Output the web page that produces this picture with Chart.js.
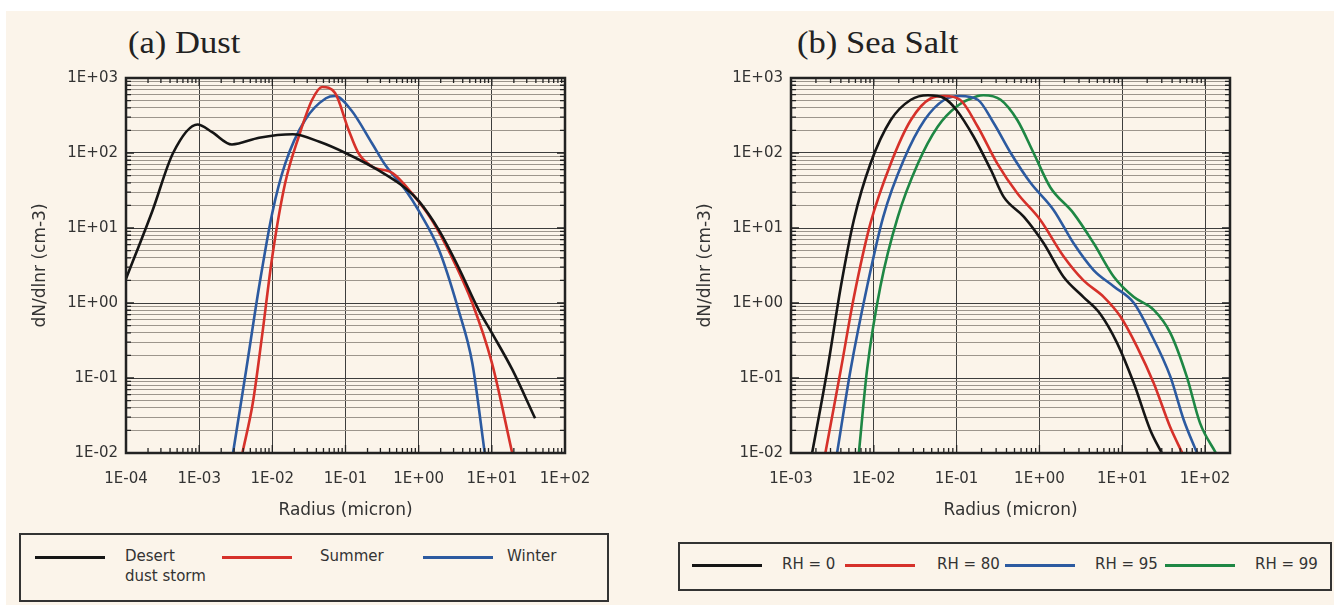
<!DOCTYPE html>
<html>
<head>
<meta charset="utf-8">
<script src="https://cdn.jsdelivr.net/npm/chart.js@4.4.1/dist/chart.umd.min.js"></script>
<style>
  html, body { margin: 0; padding: 0; background: #fff; width: 1334px; height: 605px; overflow: hidden; }
  #paper { position: absolute; left: 6px; top: 11px; width: 1328px; height: 594px; background: #fbf4ea; }
  .panel { position: absolute; top: 60px; }
  .title { position: absolute; top: 26px; font-family: 'Liberation Serif', 'Times New Roman', serif; font-size: 32px; line-height: 32px; color: #222; white-space: nowrap; transform: scaleX(1.08); transform-origin: left center; }
  .legend { position: absolute; border: 2px solid #333; box-sizing: border-box; font-family: 'DejaVu Sans', sans-serif; font-size: 15px; line-height: 20px; color: #333; }
  .legend .swatch { position: absolute; width: 70px; height: 3px; }
  .legend .txt { position: absolute; white-space: pre-line; }
</style>
</head>
<body>
<div id="paper"></div>
<div class="title" style="left:128px">(a) Dust</div>
<div class="title" style="left:797px">(b) Sea Salt</div>
<div class="panel" style="left:0px"><canvas id="dustChart" width="620" height="463"></canvas></div>
<div class="panel" style="left:665px"><canvas id="saltChart" width="620" height="463"></canvas></div>
<div class="legend" id="dustLegend" style="left:19px; top:533px; width:590px; height:69px"></div>
<div class="legend" id="saltLegend" style="left:678px; top:542px; width:654px; height:49px"></div>
<script>
// (a) Dust size distributions: radius (micron) and dN/dlnr (cm-3)
const dustLabels = ['Desert\ndust storm', 'Summer', 'Winter'];
const dustColors = ['#151515', '#d6312a', '#2c5aa0'];

const desertR = [1e-4, 2.3e-4, 4.4e-4, 9.5e-4, 1.5e-3, 2.8e-3, 6.6e-3, 0.019, 0.044, 0.1, 0.28, 0.66, 1.0, 1.9, 3.5, 6.6, 10, 19, 39];
const desertN = [2.1, 17, 100, 240, 190, 130, 160, 178, 141, 100, 59, 34, 23, 9.3, 3.0, 0.81, 0.40, 0.13, 0.029];

const summerR = [3.9e-3, 5.4e-3, 7.2e-3, 0.01, 0.015, 0.023, 0.035, 0.048, 0.072, 0.11, 0.15, 0.23, 0.44, 0.81, 1.5, 2.8, 5.4, 10, 19];
const summerN = [0.01, 0.046, 0.35, 4.2, 40, 166, 513, 760, 630, 204, 100, 66, 54, 29, 13, 4.2, 1.0, 0.16, 0.01];

const winterR = [2.9e-3, 4.4e-3, 6.6e-3, 0.01, 0.015, 0.028, 0.054, 0.072, 0.12, 0.23, 0.35, 0.66, 1.0, 1.9, 3.5, 5.4, 8.0];
const winterN = [0.01, 0.13, 1.66, 16, 72, 275, 537, 575, 372, 135, 69, 32, 17, 5.1, 0.81, 0.16, 0.01];

// (b) Sea salt at four relative humidities
const saltLabels = ['RH = 0', 'RH = 80', 'RH = 95', 'RH = 99'];
const saltColors = ['#151515', '#d6312a', '#2c5aa0', '#1e8744'];

const rh0R = [1.8e-3, 2.75e-3, 4.0e-3, 5.75e-3, 9.1e-3, 0.016, 0.028, 0.045, 0.071, 0.10, 0.16, 0.26, 0.37, 0.65, 1.12, 1.95, 3.4, 5.4, 8.7, 13.8, 21.9, 30];
const rh0N = [0.01, 0.13, 1.66, 12.9, 72, 275, 513, 589, 537, 372, 166, 59, 26, 14.1, 6.3, 2.24, 1.2, 0.72, 0.29, 0.085, 0.020, 0.01];

const rh80R = [2.6e-3, 4.0e-3, 5.75e-3, 9.1e-3, 0.016, 0.028, 0.049, 0.071, 0.11, 0.18, 0.31, 0.54, 1.02, 1.95, 3.4, 6.0, 9.5, 15.1, 24, 38, 53];
const rh80N = [0.01, 0.13, 1.2, 11.5, 72, 275, 537, 575, 513, 224, 72, 29, 12.9, 4.2, 2.0, 1.2, 0.66, 0.26, 0.085, 0.022, 0.01];

const rh95R = [3.6e-3, 5.25e-3, 8.3e-3, 0.013, 0.023, 0.041, 0.071, 0.11, 0.18, 0.28, 0.45, 0.78, 1.48, 2.57, 4.5, 7.9, 13.8, 21.9, 38, 55, 80];
const rh95N = [0.01, 0.13, 1.66, 14.1, 81, 275, 513, 575, 513, 251, 100, 40, 17.4, 6.3, 2.75, 1.66, 1.0, 0.40, 0.105, 0.028, 0.01];

const rh99R = [6.6e-3, 8.3e-3, 0.012, 0.0195, 0.034, 0.059, 0.10, 0.18, 0.21, 0.34, 0.54, 0.85, 1.35, 2.57, 4.5, 7.9, 13.8, 24, 38, 60, 87, 135];
const rh99N = [0.01, 0.13, 1.66, 14.1, 72, 224, 417, 575, 589, 513, 275, 100, 35, 15.8, 6.3, 2.24, 1.2, 0.81, 0.40, 0.105, 0.025, 0.01];

// axis ranges
const dustXRange = [1e-4, 100];
const saltXRange = [1e-3, 200];
const yRange = [0.01, 1000];

function isDecade(v) {
    const l = Math.log10(v);
    return Math.abs(l - Math.round(l)) < 1e-6;
}

// tick labels look like 1E+03 / 1E-02
function fmtE(v) {
    const e = Math.round(Math.log10(v));
    return '1E' + (e < 0 ? '-' : '+') + String(Math.abs(e)).padStart(2, '0');
}

// 1..9 x 10^n ticks across the range
function logTicks(min, max) {
    const ticks = [];
    for (let e = Math.floor(Math.log10(min)); e <= Math.ceil(Math.log10(max)); e++) {
        for (let k = 1; k <= 9; k++) {
            const v = parseFloat((k * Math.pow(10, e)).toPrecision(6));
            if (v >= min * 0.999 && v <= max * 1.001) ticks.push({ value: v });
        }
    }
    return ticks;
}

// box round the plot plus the little inside tick marks
const framePlugin = {
    id: 'frame',
    afterDraw(chart) {
        const { ctx, chartArea: a, scales } = chart;
        ctx.save();
        ctx.strokeStyle = '#222';
        ctx.lineWidth = 1.3;
        ctx.beginPath();
        scales.x.ticks.forEach(t => {
            const px = scales.x.getPixelForValue(t.value);
            const len = isDecade(t.value) ? 8 : 5;
            ctx.moveTo(px, a.top); ctx.lineTo(px, a.top + len);
            ctx.moveTo(px, a.bottom); ctx.lineTo(px, a.bottom - len);
        });
        scales.y.ticks.forEach(t => {
            const py = scales.y.getPixelForValue(t.value);
            const len = isDecade(t.value) ? 8 : 5;
            ctx.moveTo(a.left, py); ctx.lineTo(a.left + len, py);
            ctx.moveTo(a.right, py); ctx.lineTo(a.right - len, py);
        });
        ctx.stroke();
        ctx.lineWidth = 2.5;
        ctx.strokeRect(a.left, a.top, a.right - a.left, a.bottom - a.top);
        ctx.restore();
    }
};

const tickFont = { family: 'DejaVu Sans', size: 15 };
const titleFont = { family: 'DejaVu Sans', size: 17 };

function createSizeChart(canvasId, labels, colors, radii, values, xRange) {
    const ctx = document.getElementById(canvasId).getContext('2d');
    const datasets = labels.map((label, i) => ({
        label: label,
        data: radii[i].map((r, j) => ({ x: r, y: values[i][j] })),
        borderColor: colors[i],
        borderWidth: 2.6,
        pointRadius: 0,
        fill: false,
        cubicInterpolationMode: 'monotone'
    }));

    return new Chart(ctx, {
        type: 'line',
        data: { datasets: datasets },
        options: {
            responsive: false,
            animation: false,
            layout: { padding: { top: 18, right: 55, bottom: 0, left: 0 } },
            plugins: { legend: { display: false }, tooltip: { enabled: false } },
            scales: {
                x: {
                    type: 'logarithmic',
                    min: xRange[0],
                    max: xRange[1],
                    afterBuildTicks: scale => { scale.ticks = logTicks(scale.min, scale.max); },
                    afterFit: scale => { scale.height = 70; },
                    border: { display: false },
                    grid: {
                        drawTicks: false,
                        lineWidth: 1,
                        color: c => isDecade(c.tick.value) ? '#3d3d3d' : 'rgba(0,0,0,0)'
                    },
                    ticks: {
                        autoSkip: false,
                        maxRotation: 0,
                        padding: 17,
                        color: '#333',
                        font: tickFont,
                        callback: v => isDecade(v) ? fmtE(v) : ''
                    },
                    title: { display: true, text: 'Radius (micron)', color: '#333', font: titleFont, padding: { top: 4, bottom: 2 } }
                },
                y: {
                    type: 'logarithmic',
                    min: yRange[0],
                    max: yRange[1],
                    afterBuildTicks: scale => { scale.ticks = logTicks(scale.min, scale.max); },
                    afterFit: scale => { scale.width = 126; },
                    border: { display: false },
                    grid: {
                        drawTicks: false,
                        lineWidth: 1,
                        color: c => isDecade(c.tick.value) ? '#3d3d3d' : '#9c958c'
                    },
                    ticks: {
                        autoSkip: false,
                        padding: 8,
                        color: '#333',
                        font: tickFont,
                        callback: v => isDecade(v) ? fmtE(v) : ''
                    },
                    title: { display: true, text: 'dN/dlnr (cm-3)', color: '#333', font: titleFont, padding: { top: 30, bottom: 0 } }
                }
            }
        },
        plugins: [framePlugin]
    });
}

// legend boxes built from the same labels/colours
function buildLegend(boxId, labels, colors, lineLefts, textLefts, lineTop, textTop) {
    const box = document.getElementById(boxId);
    labels.forEach((label, i) => {
        const sw = document.createElement('div');
        sw.className = 'swatch';
        sw.style.left = lineLefts[i] + 'px';
        sw.style.top = lineTop + 'px';
        sw.style.background = colors[i];
        box.appendChild(sw);
        const tx = document.createElement('div');
        tx.className = 'txt';
        tx.style.left = textLefts[i] + 'px';
        tx.style.top = textTop + 'px';
        tx.textContent = label;
        box.appendChild(tx);
    });
}

createSizeChart('dustChart', dustLabels, dustColors, [desertR, summerR, winterR], [desertN, summerN, winterN], dustXRange);
createSizeChart('saltChart', saltLabels, saltColors, [rh0R, rh80R, rh95R, rh99R], [rh0N, rh80N, rh95N, rh99N], saltXRange);

buildLegend('dustLegend', dustLabels, dustColors, [14, 201, 402], [104, 299, 486], 21, 11);
buildLegend('saltLegend', saltLabels, saltColors, [12, 165, 325, 485], [102, 257, 415, 575], 20, 10);
</script>
</body>
</html>
